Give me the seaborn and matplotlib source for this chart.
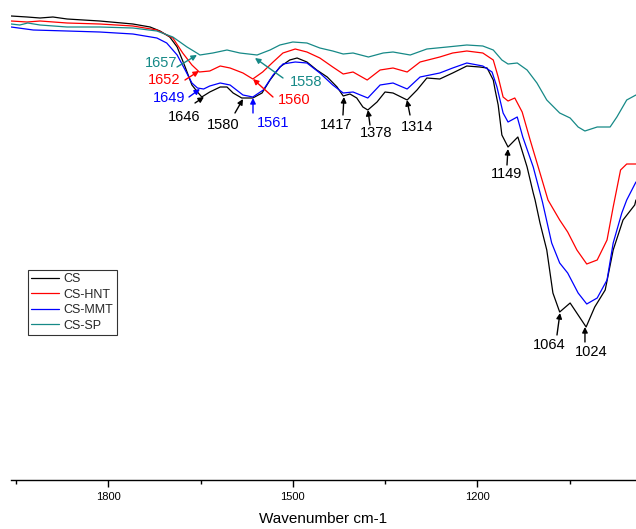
import numpy as np
import pandas as pd
import matplotlib
matplotlib.use("Agg")
import matplotlib.pyplot as plt
import seaborn as sns
from matplotlib.ticker import MultipleLocator

# ---- data (wavenumber cm-1, transmittance in arbitrary units) ----
cs_wn = [1958, 1932, 1911, 1890, 1867, 1814, 1760, 1732, 1716, 1700, 1688, 1675, 1664,
         1655, 1648, 1635, 1618, 1607, 1597, 1583, 1565, 1550, 1537, 1521, 1505, 1493,
         1477, 1461, 1444, 1428, 1418, 1407, 1396, 1386, 1378, 1363, 1350, 1337, 1314,
         1298, 1282, 1261, 1240, 1217, 1196, 1184, 1174, 1171, 1166, 1160, 1150, 1134,
         1119, 1109, 1106, 1098, 1087, 1077, 1066, 1049, 1023, 1009, 992, 979, 963, 944,
         942]
cs_t = [464, 463, 462, 463, 461, 459, 456, 453, 449, 443, 433, 413, 395,
        388, 383, 388, 393, 393, 387, 382, 382, 387, 400, 413, 420, 422,
        418, 410, 403, 393, 384, 386, 382, 373, 370, 378, 388, 387, 380,
        390, 402, 401, 407, 414, 413, 412, 400, 390, 375, 345, 333, 343,
        313, 287, 280, 257, 230, 187, 168, 177, 153, 173, 190, 230, 260, 275,
        280]

hnt_wn = [1958, 1932, 1911, 1867, 1814, 1760, 1721, 1695, 1679, 1664, 1652, 1635, 1618,
          1602, 1581, 1565, 1549, 1532, 1516, 1496, 1477, 1456, 1435, 1418, 1402, 1379,
          1358, 1337, 1314, 1293, 1261, 1240, 1217, 1191, 1174, 1166, 1158, 1150, 1139,
          1127, 1114, 1098, 1085, 1066, 1053, 1038, 1022, 1005, 989, 979, 967, 957, 942]
hnt_t = [459, 458, 459, 457, 456, 454, 450, 442, 427, 415, 408, 409, 414,
         412, 407, 401, 408, 418, 427, 431, 428, 422, 413, 406, 408, 400,
         410, 412, 408, 418, 423, 427, 429, 427, 420, 403, 383, 379, 382,
         368, 340, 307, 280, 260, 248, 230, 216, 220, 240, 273, 310, 316, 316]

mmt_wn = [1958, 1922, 1867, 1814, 1760, 1721, 1705, 1688, 1675, 1664, 1655, 1645, 1635,
          1618, 1602, 1581, 1565, 1548, 1532, 1516, 1496, 1477, 1456, 1435, 1418, 1402,
          1378, 1358, 1337, 1314, 1293, 1261, 1240, 1217, 1191, 1176, 1168, 1158, 1150,
          1135, 1126, 1109, 1094, 1079, 1066, 1053, 1036, 1022, 1005, 989, 979, 965, 957,
          942]
mmt_t = [453, 450, 449, 448, 446, 442, 437, 425, 410, 397, 392, 391, 394,
         397, 395, 385, 383, 390, 405, 416, 418, 417, 407, 395, 387, 388,
         382, 395, 397, 391, 403, 407, 412, 417, 414, 408, 393, 367, 358,
         363, 343, 313, 278, 237, 217, 207, 187, 176, 182, 200, 237, 267, 280,
         298]

sp_wn = [1958, 1944, 1931, 1911, 1867, 1814, 1760, 1721, 1695, 1672, 1656, 1651, 1630,
         1607, 1586, 1558, 1537, 1521, 1500, 1477, 1456, 1435, 1418, 1402, 1377, 1353,
         1337, 1309, 1282, 1249, 1217, 1191, 1174, 1160, 1150, 1135, 1119, 1103, 1087,
         1066, 1049, 1036, 1025, 1005, 984, 973, 957, 942]
sp_t = [456, 455, 457, 455, 453, 453, 452, 449, 443, 433, 427, 425, 427,
        430, 427, 425, 430, 435, 438, 437, 432, 429, 426, 427, 423, 427,
        428, 425, 431, 433, 435, 434, 430, 420, 416, 417, 410, 397, 380,
        367, 362, 353, 349, 353, 353, 363, 380, 385]

series_names = ["CS", "CS-HNT", "CS-MMT", "CS-SP"]
series_colors = ["#000000", "#ff0000", "#0000ff", "#168987"]

# peak labels: text, colour index, text pos, arrow tail, arrow head (data coords)
peak_labels = ["1657", "1652", "1649", "1646", "1580", "1561", "1560", "1558",
               "1417", "1378", "1314", "1149", "1064", "1024"]
peak_series = [3, 1, 2, 0, 0, 2, 1, 3, 0, 0, 0, 0, 0, 0]
peak_text = [(1713.5, 417), (1709.4, 400), (1700.5, 382), (1676.9, 363), (1612.7, 355),
             (1532.2, 357), (1497.2, 380), (1477.7, 398), (1428.9, 355), (1363.9, 347),
             (1298.0, 353), (1151.7, 306), (1083.4, 135), (1015.1, 128)]
peak_tail = [(1688.3, 413), (1675.3, 400), (1668.8, 383), (1659.0, 377), (1594.0, 367),
             (1564.7, 367), (1532.2, 383), (1515.9, 402), (1418.4, 365), (1374.5, 355),
             (1309.4, 365), (1151.7, 315), (1070.4, 145), (1024.9, 138)]
peak_head = [(1655.8, 425), (1652.5, 409), (1650.9, 391), (1644.4, 383), (1581.0, 381),
             (1564.7, 382), (1564.7, 401), (1561.5, 422), (1416.8, 383), (1377.7, 370),
             (1314.3, 380), (1150.1, 331), (1065.5, 167), (1024.9, 153)]

frames = []
for name, wn, t in zip(series_names, [cs_wn, hnt_wn, mmt_wn, sp_wn], [cs_t, hnt_t, mmt_t, sp_t]):
    frames.append(pd.DataFrame({"wn": wn, "T": t, "sample": name}))
df = pd.concat(frames, ignore_index=True)

sns.set_theme(style="white")
plt.rcParams["font.family"] = ["Liberation Sans", "DejaVu Sans"]

W, H = 636, 529
fig = plt.figure(figsize=(W / 100, H / 100), dpi=100)
ax = fig.add_axes([11 / W, (H - 480) / H, (W - 11) / W, 480 / H])

sns.lineplot(data=df, x="wn", y="T", hue="sample", hue_order=series_names,
             palette=dict(zip(series_names, series_colors)), estimator=None,
             linewidth=0.9, ax=ax, legend=False)
for ln in ax.get_lines():
    ln.set_solid_joinstyle("round")

ax.set_xlim(1958.2, 941.9)
ax.set_ylim(0, 480)

for sp in ["top", "left", "right"]:
    ax.spines[sp].set_visible(False)
ax.spines["bottom"].set_color("black")
ax.spines["bottom"].set_linewidth(1.0)
ax.set_yticks([])
ax.set_ylabel("")
ax.xaxis.set_major_locator(MultipleLocator(300))
ax.xaxis.set_minor_locator(MultipleLocator(150))
ax.tick_params(axis="x", which="major", direction="out", length=5, width=1,
               labelsize=8, pad=3.5, colors="black", bottom=True)
ax.tick_params(axis="x", which="minor", direction="out", length=3, width=1,
               colors="black", bottom=True)
ax.set_xlabel("Wavenumber cm-1", fontsize=11, color="black")
ax.xaxis.set_label_coords((323 - 11) / 625, (480 - 519) / 480)
ax.xaxis.label.set_va("center")

for lab, si, tp, tl, hd in zip(peak_labels, peak_series, peak_text, peak_tail, peak_head):
    c = series_colors[si]
    ax.text(tp[0], tp[1], lab, color=c, fontsize=10.5, ha="center", va="center")
    ax.annotate("", xy=hd, xytext=tl,
                arrowprops=dict(arrowstyle="-|>", color=c, lw=1.0, mutation_scale=8,
                                shrinkA=0, shrinkB=0))

handles = [plt.Line2D([], [], color=c, lw=0.9) for c in series_colors]
leg = fig.legend(handles, series_names, loc="upper left",
                 bbox_to_anchor=(28 / W, 1 - 270 / H), frameon=True, fancybox=False,
                 fontsize=9, handlelength=2.2, handletextpad=0.4, labelspacing=0.28,
                 borderpad=0.25, borderaxespad=0)
leg.get_frame().set_edgecolor("black")
leg.get_frame().set_linewidth(0.8)

fig.savefig("out.png", dpi=100)
